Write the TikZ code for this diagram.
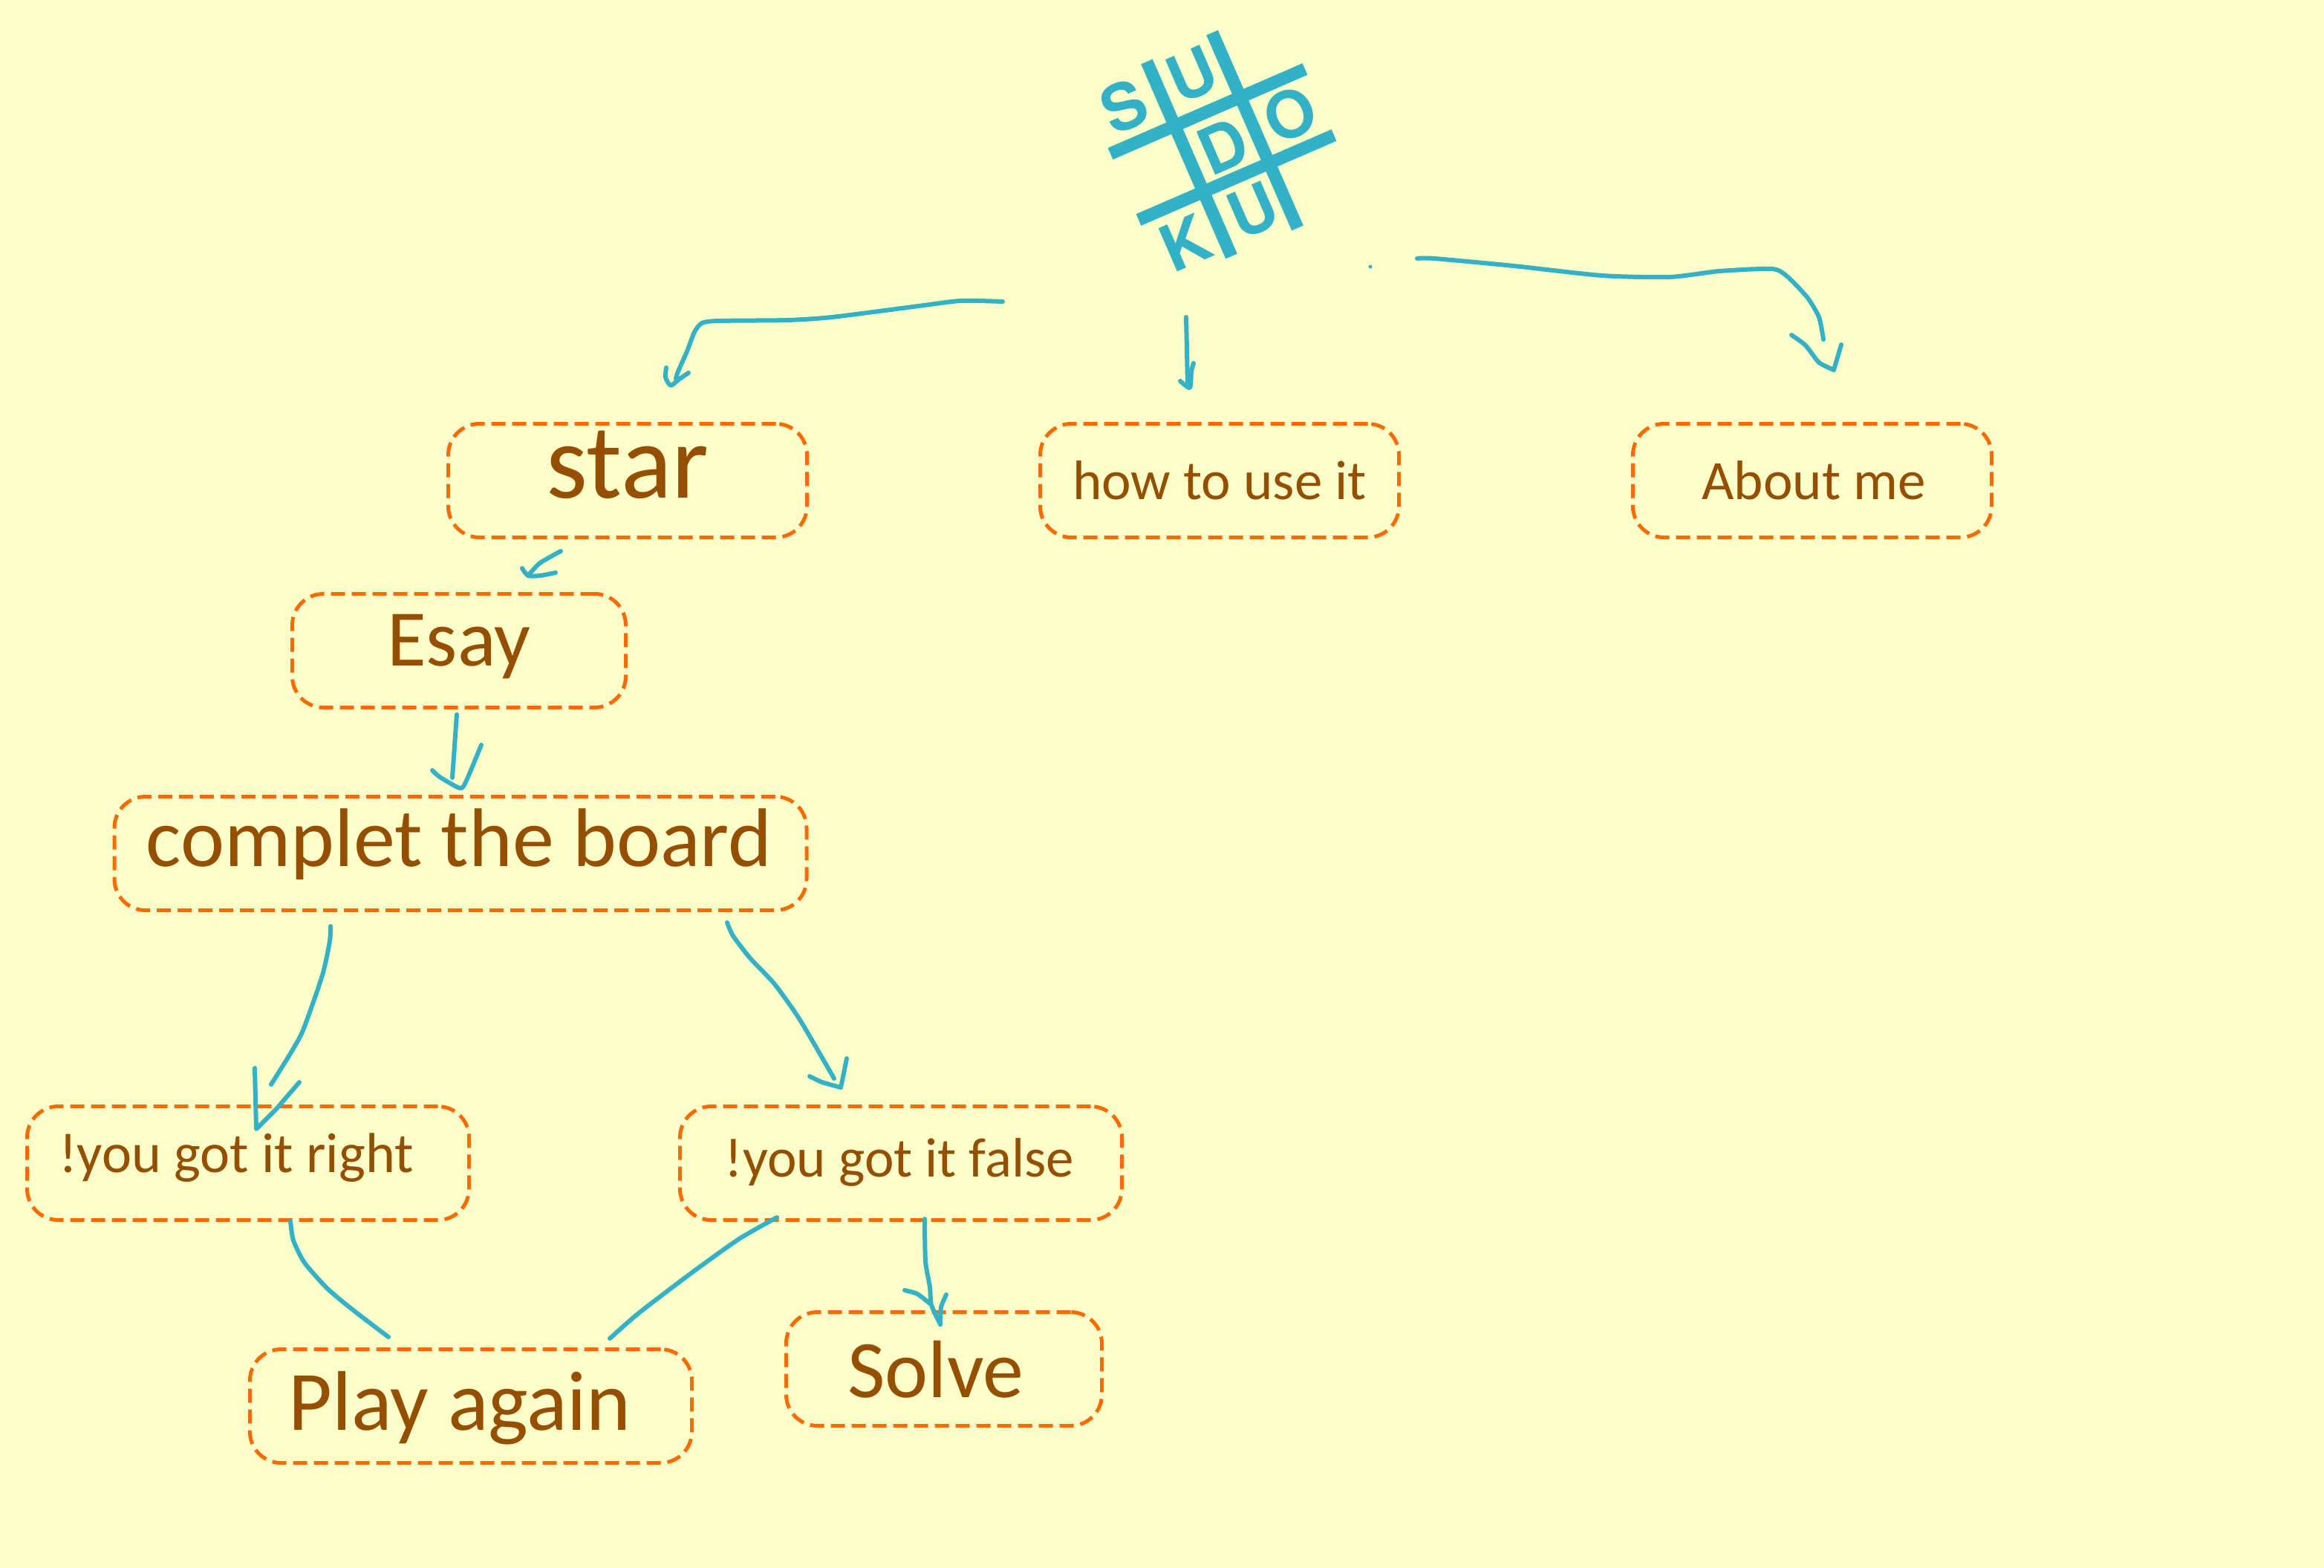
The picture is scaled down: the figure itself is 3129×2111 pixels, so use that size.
\documentclass[tikz,border=0pt]{standalone}
\usepackage{fontspec}
\setmainfont{Carlito}
\newfontfamily\logofont{TeX Gyre Heros}
\definecolor{bgc}{HTML}{FDFFCA}
\definecolor{teal1}{HTML}{33B1C6}
\definecolor{orange1}{HTML}{FF6A00}
\definecolor{brown1}{HTML}{964F00}
\tikzset{
  box/.style={draw=orange1,line width=5pt,dash pattern=on 19pt off 9pt,rounded corners=42pt,inner sep=0pt,minimum height=153pt},
  bar/.style={teal1,line width=17pt},
  logolet/.style={text=teal1,inner sep=0pt,rotate=23.5},
  pen/.style={teal1,line width=6pt,line cap=round,line join=round},
  lbl/.style={text=brown1,inner sep=0pt,anchor=base},
}
\newcommand{\fs}[1]{\fontsize{#1}{#1}\selectfont}
\newcommand{\logoch}[1]{{\logofont\bfseries\fontsize{87}{87}\selectfont #1}}
\begin{document}
\begin{tikzpicture}[x=1pt,y=-1pt]
\useasboundingbox (0,0) rectangle (3129,2111);
\fill[bgc] (0,0) rectangle (3129,2111);
% logo
\coordinate (b1a) at (1544,83); \coordinate (b1b) at (1658,345);
\coordinate (b2a) at (1632,44); \coordinate (b2b) at (1747,307);
\coordinate (b3a) at (1495,207); \coordinate (b3b) at (1757,93);
\coordinate (b4a) at (1533,296); \coordinate (b4b) at (1796,182);
\draw[bar] (b1a)--(b1b); \draw[bar] (b2a)--(b2b); \draw[bar] (b3a)--(b3b); \draw[bar] (b4a)--(b4b);
\node[logolet] (ls) at (1513,143) {\logoch{S}};
\node[logolet] (lu) at (1605,100) {\logoch{U}};
\node[logolet] (ld) at (1647,197) {\logoch{D}};
\node[logolet] (lo) at (1737,154) {\logoch{O}};
\node[logolet] (lk) at (1596,327) {\logoch{K}};
\node[logolet] (lv) at (1687,283) {\logoch{U}};
\fill[teal1] (1845,359) circle (2.5pt);
% boxes
\node[box,minimum width=483pt] (star) at (845,647) {};
\node[box,minimum width=483pt] (how) at (1642,647) {};
\node[box,minimum width=483pt] (about) at (2440,647) {};
\node[box,minimum width=449pt] (esay) at (618,876) {};
\node[box,minimum width=932pt] (comp) at (620,1149) {};
\node[box,minimum width=595pt] (right) at (334,1566) {};
\node[box,minimum width=595pt] (false) at (1213,1566) {};
\node[box,minimum width=595pt] (play) at (634,1893) {};
\node[box,minimum width=425pt] (solve) at (1271,1843) {};
% labels
\node[lbl,font=\fs{143}] (tstar) at (845,670) {star};
\node[lbl,font=\fs{75}] (thow) at (1642,672) {how to use it};
\node[lbl,font=\fs{75}] (tabout) at (2442,672) {About me};
\node[lbl,font=\fs{108}] (tesay) at (618,896) {Esay};
\node[lbl,font=\fs{112}] (tcomp) at (618,1166) {complet the board};
\node[lbl,font=\fs{76}] (tright) at (318,1578) {!you got it right};
\node[lbl,font=\fs{75}] (tfalse) at (1211,1584) {!you got it false};
\node[lbl,font=\fs{114}] (tplay) at (619,1925) {Play again};
\node[lbl,font=\fs{110}] (tsolve) at (1260,1881) {Solve};
% connector free ends
\coordinate (c1s) at (1350,406); \coordinate (c1e) at (903,519);
\coordinate (c2s) at (1597,427); \coordinate (c2e) at (1602,522);
\coordinate (c3s) at (1908,348); \coordinate (c3e) at (2469,498);
\draw[pen] plot[smooth,tension=0.4] coordinates {(c1s) (1293,405) (1237,412) (1120,427) (1060,431) (967,432) (945,435) (935,447) (925,473) (913,500) (910,510)};
\draw[pen] plot[smooth,tension=0.4] coordinates {(897,495) (896,508) (c1e) (915,510) (927,502)};
\draw[pen] (c2s) -- (1599,517);
\draw[pen] plot[smooth,tension=0.4] coordinates {(1589,513) (c2e) (1604,500) (1607,489)};
\draw[pen] plot[smooth,tension=0.4] coordinates {(c3s) (1931,348) (2038,358) (2157,371) (2248,373) (2315,365) (2386,362) (2406,372) (2433,400) (2449,427) (2455,457)};
\draw[pen] plot[smooth,tension=0.4] coordinates {(2412,451) (2431,465) (2449,488) (c3e)};
\draw[pen] (c3e) -- (2479,464);
\coordinate (c4s) at (755,742); \coordinate (c4e) at (711,775);
\draw[pen] plot[smooth,tension=0.4] coordinates {(c4s) (727,758) (c4e)};
\draw[pen] plot[smooth,tension=0.4] coordinates {(703,765) (c4e) (727,775) (748,771)};
\coordinate (c5s) at (615,962); \coordinate (c5e) at (619,1061);
\draw[pen] (c5s) -- (609,1047);
\draw[pen] plot[smooth,tension=0.4] coordinates {(582,1037) (592,1046) (c5e) (627,1053) (648,1003)};
\coordinate (c6s) at (445,1247); \coordinate (c6e) at (345,1520);
\draw[pen] plot[smooth,tension=0.4] coordinates {(c6s) (444,1267) (434,1313) (408,1387) (390,1420) (365,1460)};
\draw[pen] (343,1438) -- (c6e) -- (372,1493) -- (403,1457);
\coordinate (c7s) at (979,1242); \coordinate (c7e) at (1132,1464);
\draw[pen] plot[smooth,tension=0.4] coordinates {(c7s) (987,1260) (1010,1290) (1043,1325) (1077,1373) (1123,1452)};
\draw[pen] plot[smooth,tension=0.4] coordinates {(1090,1449) (1107,1457) (c7e)};
\draw[pen] (c7e) -- (1135,1450) -- (1140,1425);
\coordinate (c8s) at (391,1644); \coordinate (c8e) at (523,1800);
\draw[pen] plot[smooth,tension=0.4] coordinates {(c8s) (395,1670) (410,1700) (441,1735) (477,1765) (c8e)};
\coordinate (c9s) at (1046,1639); \coordinate (c9e) at (821,1802);
\draw[pen] plot[smooth,tension=0.4] coordinates {(c9s) (995,1668) (932,1713) (861,1767) (c9e)};
\coordinate (c10s) at (1245,1641); \coordinate (c10e) at (1266,1783);
\draw[pen] plot[smooth,tension=0.4] coordinates {(c10s) (1246,1698) (1252,1733) (1254,1757) (c10e)};
\draw[pen] plot[smooth,tension=0.4] coordinates {(1218,1737) (1235,1742) (1252,1755)};
\draw[pen] plot[smooth,tension=0.4] coordinates {(c10e) (1267,1760) (1274,1743)};
\end{tikzpicture}
\end{document}
